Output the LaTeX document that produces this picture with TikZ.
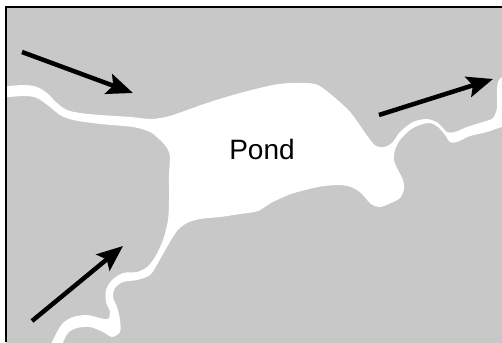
\documentclass[tikz,border=0pt]{standalone}
\usepackage{fontspec}
\setmainfont{Liberation Sans}
\usetikzlibrary{arrows.meta}
\definecolor{land}{RGB}{200,200,200}
\tikzset{
  flowarrow/.style={line width=4.5pt, -{Stealth[length=26pt,width=21pt,inset=5pt]}},
  waterbody/.style={fill=white, draw=none}
}
\begin{document}
\begin{tikzpicture}[x=1pt,y=-1pt]
\useasboundingbox (0,0) rectangle (502,342);
\fill[white] (0,0) rectangle (502,342);
\fill[land] (6,7) rectangle (510,350);
\begin{scope}
\clip (6,7) rectangle (502,342);
\fill[waterbody] plot[smooth cycle, tension=0.5] coordinates {
 (-5,86) (8,86) (25,85) (37,87) (47,93) (57,103) (67,110) (80,113) (100,115) (130,117) (150,119) (160,118)
 (173,115) (207,103) (240,93) (273,85) (290,83) (305,83) (318,85) (334,97) (351,113) (368,137) (376,146)
 (384,147) (392,143) (400,132) (413,122) (427,119) (438,123) (447,132) (455,132) (467,127) (483,122)
 (493,118) (497,108) (497,92) (499,80) (512,74)
 (512,127) (502,127) (487,132) (470,136) (457,142) (450,142) (445,135) (438,127) (430,123) (420,125)
 (410,130) (400,140) (395,150) (394,160) (398,170) (403,180) (404,189) (400,198) (391,203) (380,207)
 (371,204) (361,193) (351,187) (338,185) (318,187) (291,194) (271,203) (258,211) (240,214) (220,217)
 (200,219) (187,223) (177,231) (167,247) (158,263) (150,275) (137,280) (123,282) (115,288) (113,297)
 (117,307) (120,320) (120,332) (112,337) (103,332) (90,327) (77,328) (68,333) (62,345) (58,355)
 (46,355) (52,342) (57,332) (63,323) (73,317) (87,315) (100,318) (108,319) (110,312) (106,302)
 (106,290) (112,280) (123,273) (137,272) (147,267) (155,257) (163,240) (168,220) (169,200)
 (169,175) (170,157) (167,148) (160,140) (150,132) (133,127) (100,124) (73,120) (60,115) (50,107)
 (37,98) (25,96) (8,97) (-5,97)
};
\end{scope}
\draw[line width=2pt] (6,342) -- (6,7) -- (502,7);
\node[font=\fontsize{28}{30}\selectfont, inner sep=0pt, anchor=base] (pond) at (262,159) {Pond};
\coordinate (a1s) at (22,52);
\coordinate (a1e) at (133,93);
\coordinate (a2s) at (379,115);
\coordinate (a2e) at (493,79);
\coordinate (a3s) at (32,321);
\coordinate (a3e) at (123,246);
\draw[flowarrow] (a1s) -- (a1e);
\draw[flowarrow] (a2s) -- (a2e);
\draw[flowarrow] (a3s) -- (a3e);
\end{tikzpicture}
\end{document}
